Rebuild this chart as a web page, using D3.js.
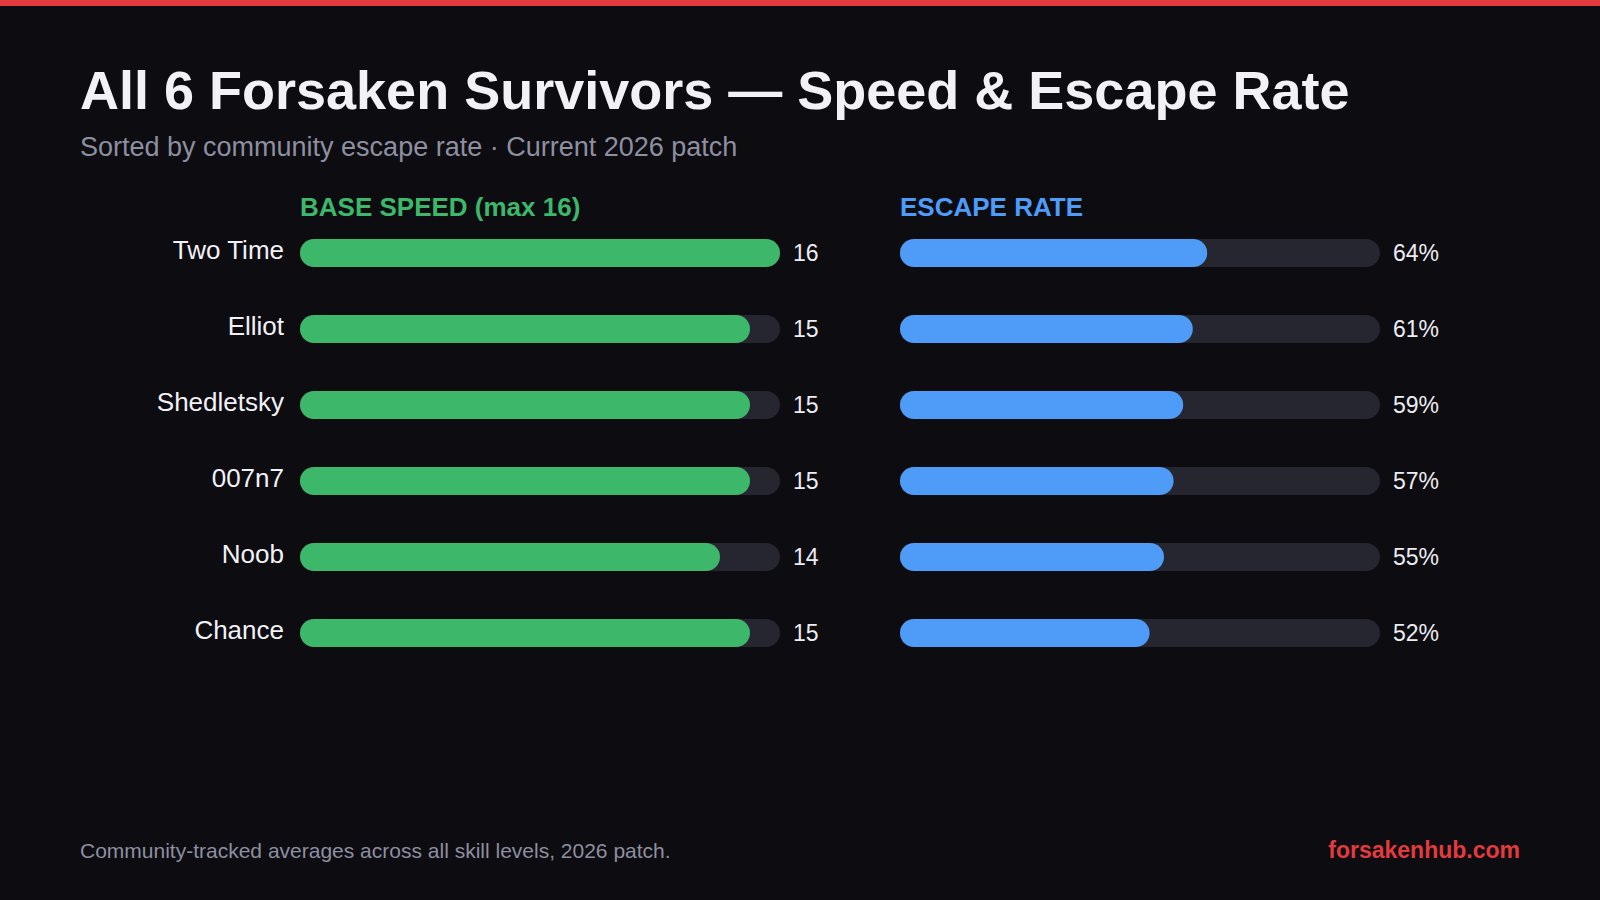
<!DOCTYPE html>
<html>
<head>
<meta charset="utf-8">
<script src="https://cdn.jsdelivr.net/npm/d3@7"></script>
<style>
  html, body { margin: 0; padding: 0; background: #0c0c11; }
  svg { display: block; font-family: "Liberation Sans", Arial, Helvetica, sans-serif; }
</style>
</head>
<body>
<svg id="drawing_region"></svg>
<script>
const survivors = ["Two Time", "Elliot", "Shedletsky", "007n7", "Noob", "Chance"];
const base_speed = [16, 15, 15, 15, 14, 15];
const escape_rate = [64, 61, 59, 57, 55, 52];
const speed_max = 16;
const rate_max = 100;

var config = {
    parent: '#drawing_region',
    width: 1600,
    height: 900,
    margin: {top: 230, left: 300}
};

class SurvivorChart {

    constructor( config ) {
        this.config = config;
        this.data = survivors.map( (name, i) => ({ name: name, speed: base_speed[i], rate: escape_rate[i] }) );
        this.init();
    }

    init() {
        let self = this;

        self.svg = d3.select( self.config.parent )
            .attr('width', self.config.width)
            .attr('height', self.config.height);

        self.svg.append('rect')
            .attr('width', self.config.width)
            .attr('height', self.config.height)
            .attr('fill', '#0c0c11');

        // red strip at the top
        self.svg.append('rect')
            .attr('width', self.config.width)
            .attr('height', 6)
            .attr('fill', '#e23b3f');

        self.svg.append('text')
            .attr('x', 80)
            .attr('y', 109)
            .attr('font-weight', 'bold')
            .attr('font-size', '54px')
            .attr('fill', '#f1f1f6')
            .text('All 6 Forsaken Survivors — Speed & Escape Rate');

        self.svg.append('text')
            .attr('x', 80)
            .attr('y', 156)
            .attr('font-size', '27px')
            .attr('fill', '#8e8fa0')
            .text('Sorted by community escape rate · Current 2026 patch');

        self.svg.append('text')
            .attr('x', 80)
            .attr('y', 858)
            .attr('font-size', '21px')
            .attr('fill', '#8e8fa0')
            .text('Community-tracked averages across all skill levels, 2026 patch.');

        self.svg.append('text')
            .attr('x', 1520)
            .attr('y', 858)
            .attr('text-anchor', 'end')
            .attr('font-weight', 'bold')
            .attr('font-size', '23px')
            .attr('fill', '#e23b3f')
            .text('forsakenhub.com');

        self.yscale = d3.scaleBand()
            .domain( survivors )
            .range([ 215, 671 ])
            .paddingInner( 0.63 )
            .paddingOuter( 0.315 );

        self.speed_scale = d3.scaleLinear()
            .domain([0, speed_max])
            .range([300, 780]);

        self.rate_scale = d3.scaleLinear()
            .domain([0, rate_max])
            .range([900, 1380]);
    }

    update() {
        let self = this;
        self.render();
    }

    panel( xscale, value, color, title, fmt ) {
        let self = this;
        const h = self.yscale.bandwidth();
        const x0 = xscale.range()[0];
        const x1 = xscale.range()[1];

        const g = self.svg.append('g');

        g.append('text')
            .attr('x', x0)
            .attr('y', 216)
            .attr('font-weight', 'bold')
            .attr('font-size', '26px')
            .attr('fill', color)
            .text( title );

        g.selectAll('.track')
            .data( self.data )
            .join('rect')
            .attr('class', 'track')
            .attr('x', x0)
            .attr('y', d => self.yscale(d.name))
            .attr('width', x1 - x0)
            .attr('height', h)
            .attr('rx', h / 2)
            .attr('fill', '#25262f');

        g.selectAll('.bar')
            .data( self.data )
            .join('rect')
            .attr('class', 'bar')
            .attr('x', x0)
            .attr('y', d => self.yscale(d.name))
            .attr('width', d => xscale(value(d)) - x0)
            .attr('height', h)
            .attr('rx', h / 2)
            .attr('fill', color);

        g.selectAll('.val')
            .data( self.data )
            .join('text')
            .attr('class', 'val')
            .attr('x', x1 + 13)
            .attr('y', d => self.yscale(d.name) + h / 2)
            .attr('dy', '0.36em')
            .attr('font-size', '23px')
            .attr('fill', '#ececf2')
            .text( d => fmt(value(d)) );
    }

    render() {
        let self = this;
        const h = self.yscale.bandwidth();

        self.svg.append('g')
            .selectAll('text')
            .data( self.data )
            .join('text')
            .attr('x', 284)
            .attr('y', d => self.yscale(d.name) + h / 2)
            .attr('dy', '0.24em')
            .attr('text-anchor', 'end')
            .attr('font-size', '26px')
            .attr('fill', '#f1f1f6')
            .text( d => d.name );

        self.panel( self.speed_scale, d => d.speed, '#3db86b', 'BASE SPEED (max 16)', v => v );
        self.panel( self.rate_scale, d => d.rate, '#4e9cf7', 'ESCAPE RATE', v => v + '%' );
    }
}

const chart = new SurvivorChart( config );
chart.update();
</script>
</body>
</html>
